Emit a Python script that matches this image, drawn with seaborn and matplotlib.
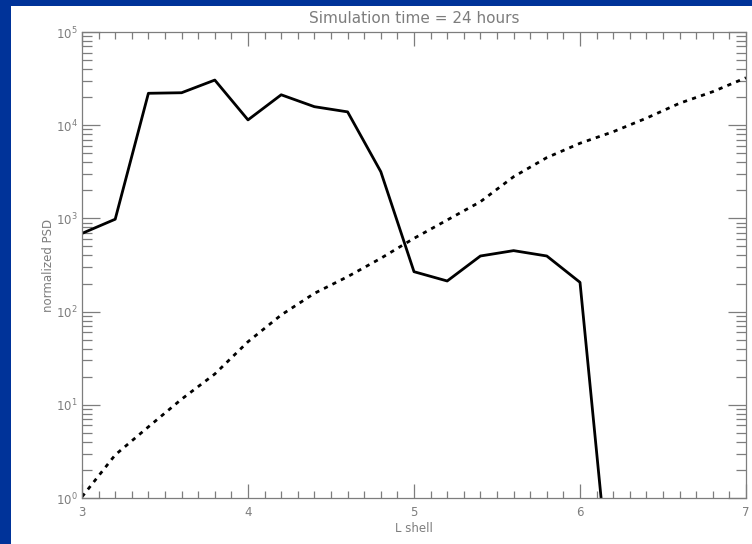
import matplotlib
matplotlib.use("Agg")
import matplotlib.pyplot as plt
from matplotlib.patches import Rectangle
from matplotlib.ticker import LogLocator, MultipleLocator, FixedLocator, NullFormatter
import seaborn as sns
import pandas as pd

# L-shell grid and phase space density profiles after 24 hours
l_shell = [3.0, 3.2, 3.4, 3.6, 3.8, 4.0, 4.2, 4.4, 4.6, 4.8,
           5.0, 5.2, 5.4, 5.6, 5.8, 6.0, 6.2]
psd_sim = [690, 980, 22000, 22300, 30500, 11400, 21200, 15800, 13900, 3170,
           268, 213, 395, 451, 395, 206, 0.047]

l_shell_init = [3.0, 3.2, 3.4, 3.6, 3.8, 4.0, 4.2, 4.4, 4.6, 4.8, 5.0,
                5.2, 5.4, 5.6, 5.8, 6.0, 6.2, 6.4, 6.6, 6.8, 7.0]
psd_init = [1.03, 2.9, 5.8, 11.5, 21.4, 47.5, 92, 157, 237, 373, 611,
            961, 1510, 2800, 4490, 6400, 8510, 11900, 17200, 22900, 32300]

x_major = [3, 4, 5, 6, 7]
title_text = "Simulation time = 24 hours"
x_label = "L shell"
y_label = "normalized PSD"

sns.set_style("white")
plt.rcParams["font.family"] = ["DejaVu Sans"]

grey = "#7d7d7d"
fig = plt.figure(figsize=(7.52, 5.44), dpi=100, facecolor="#003399")
fig.patches.append(Rectangle((11 / 752, 0), 1 - 11 / 752, 538 / 544,
                             transform=fig.transFigure, facecolor="white",
                             edgecolor="none", zorder=-10))
ax = fig.add_axes([82 / 752, 46 / 544, 664 / 752, 466 / 544])
ax.set_zorder(5)
ax.set_yscale("log")

sim = pd.DataFrame({"L": l_shell, "psd": psd_sim})
init = pd.DataFrame({"L": l_shell_init, "psd": psd_init})
sns.lineplot(data=sim, x="L", y="psd", ax=ax, color="black", lw=2.0,
             estimator=None, errorbar=None, sort=False)
sns.lineplot(data=init, x="L", y="psd", ax=ax, color="black", lw=2.0,
             linestyle=(0, (1.5, 1.9)), estimator=None, errorbar=None, sort=False)

ax.set_xlim(3, 7)
ax.set_ylim(1, 1e5)

ax.xaxis.set_major_locator(FixedLocator(x_major))
ax.xaxis.set_minor_locator(MultipleLocator(0.1))
ax.yaxis.set_major_locator(LogLocator(base=10, numticks=10))
ax.yaxis.set_minor_locator(LogLocator(base=10, subs=range(2, 10), numticks=20))
ax.yaxis.set_minor_formatter(NullFormatter())

ax.tick_params(axis="both", which="both", direction="in", colors=grey,
               labelcolor=grey, labelsize=8.5, width=0.9)
ax.tick_params(axis="x", which="major", length=10, pad=6, top=True, bottom=True)
ax.tick_params(axis="x", which="minor", length=5, top=True, bottom=True)
ax.tick_params(axis="y", which="major", length=13, pad=3, left=True, right=True)
ax.tick_params(axis="y", which="minor", length=7, left=True, right=True)

for s in ax.spines.values():
    s.set_color(grey)
    s.set_linewidth(0.9)

ax.set_title(title_text, color=grey, fontsize=11, pad=6.5)
ax.set_xlabel(x_label, color=grey, fontsize=8.5)
ax.set_ylabel(y_label, color=grey, fontsize=8.5)
ax.xaxis.label.set_va("baseline")
ax.yaxis.label.set_va("baseline")
ax.xaxis.set_label_coords(0.5, -0.0723)
ax.yaxis.set_label_coords(-0.0456, 0.5)

fig.savefig("out.png", dpi=100, facecolor=fig.get_facecolor())
